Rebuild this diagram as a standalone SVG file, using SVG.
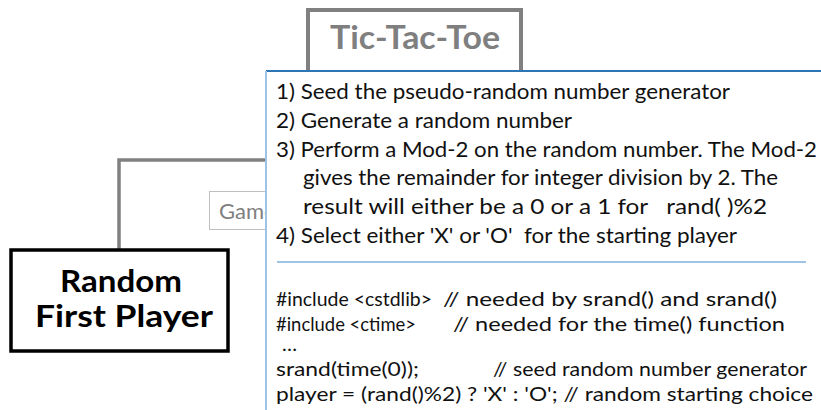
<svg xmlns="http://www.w3.org/2000/svg" width="821" height="410" viewBox="0 0 821 410">
  <style>
    .node-frame { fill: #ffffff; }
    .gray-frame { stroke: #808080; stroke-width: 4; }
    .dark-frame { stroke: #000000; stroke-width: 3.5; }
    .title { font-family: Lato, "Liberation Sans", sans-serif; font-weight: bold; fill: #7f7f7f; font-size: 32.5px; }
    .big { font-family: Lato, "Liberation Sans", sans-serif; font-weight: bold; fill: #000000; font-size: 31px; }
    .step { font-family: Lato, "Liberation Sans", sans-serif; fill: #111111; font-size: 22px; }
    .code { font-family: Lato, "Liberation Sans", sans-serif; fill: #111111; font-size: 20px; }
    .faint { font-family: Lato, "Liberation Sans", sans-serif; fill: #7f7f7f; font-size: 22px; }
    .link { fill: none; stroke: #808080; stroke-width: 3.5; }
  </style>

  <rect x="0" y="0" width="821" height="410" fill="#ffffff"/>

  <!-- connectors -->
  <g id="connectors">
    <polyline class="link" points="119,250 119,160 300,160"/>
  </g>

  <!-- top-level game node -->
  <g id="node-tictactoe">
    <rect class="node-frame gray-frame" x="308" y="10" width="213" height="90"/>
    <text class="title" x="330" y="49" textLength="170" lengthAdjust="spacingAndGlyphs">Tic-Tac-Toe</text>
  </g>

  <!-- partly hidden sibling node -->
  <g id="node-game">
    <rect x="209.5" y="191.5" width="120" height="38" fill="#ffffff" stroke="#bfbfbf" stroke-width="1"/>
    <text class="faint" x="219" y="219">Game</text>
  </g>

  <!-- explanatory callout -->
  <g id="callout">
    <rect x="266" y="71" width="560" height="345" fill="#ffffff"/>
    <line x1="266" y1="71" x2="821" y2="71" stroke="#2e75b6" stroke-width="2"/>
    <line x1="266" y1="71" x2="266" y2="410" stroke="#9dc3e6" stroke-width="2"/>

    <text class="step" x="276" y="99" textLength="454" lengthAdjust="spacingAndGlyphs">1) Seed the pseudo-random number generator</text>
    <text class="step" x="276" y="128" textLength="296" lengthAdjust="spacingAndGlyphs">2) Generate a random number</text>
    <text class="step" x="276" y="157" textLength="541" lengthAdjust="spacingAndGlyphs">3) Perform a Mod-2 on the random number. The Mod-2</text>
    <text class="step" x="303" y="185" textLength="475" lengthAdjust="spacingAndGlyphs">gives the remainder for integer division by 2. The</text>
    <text class="step" x="303" y="214" textLength="464" lengthAdjust="spacingAndGlyphs" xml:space="preserve">result will either be a 0 or a 1 for   rand( )%2</text>
    <text class="step" x="276" y="243" textLength="461" lengthAdjust="spacingAndGlyphs" xml:space="preserve">4) Select either 'X' or 'O'  for the starting player</text>

    <line x1="277" y1="262" x2="806" y2="262" stroke="#7fb0de" stroke-width="1.5"/>

    <text class="code" x="276" y="306" textLength="156" lengthAdjust="spacingAndGlyphs">#include &lt;cstdlib&gt;</text>
    <text class="code" x="443" y="306" textLength="334" lengthAdjust="spacingAndGlyphs">// needed by srand() and srand()</text>
    <text class="code" x="276" y="331" textLength="140" lengthAdjust="spacingAndGlyphs">#include &lt;ctime&gt;</text>
    <text class="code" x="453" y="331" textLength="332" lengthAdjust="spacingAndGlyphs">// needed for the time() function</text>
    <text class="code" x="282" y="351" font-size="18">…</text>
    <text class="code" x="276" y="376" textLength="143" lengthAdjust="spacingAndGlyphs">srand(time(0));</text>
    <text class="code" x="493" y="376" textLength="314" lengthAdjust="spacingAndGlyphs">// seed random number generator</text>
    <text class="code" x="276" y="401" textLength="537" lengthAdjust="spacingAndGlyphs">player = (rand()%2) ? 'X' : 'O'; // random starting choice</text>
  </g>

  <!-- current node -->
  <g id="node-random-first-player">
    <rect class="node-frame dark-frame" x="11" y="250" width="217" height="101"/>
    <text class="big" x="121" y="292" text-anchor="middle" textLength="122" lengthAdjust="spacingAndGlyphs">Random</text>
    <text class="big" x="124" y="327" text-anchor="middle" textLength="178" lengthAdjust="spacingAndGlyphs">First Player</text>
  </g>
</svg>
